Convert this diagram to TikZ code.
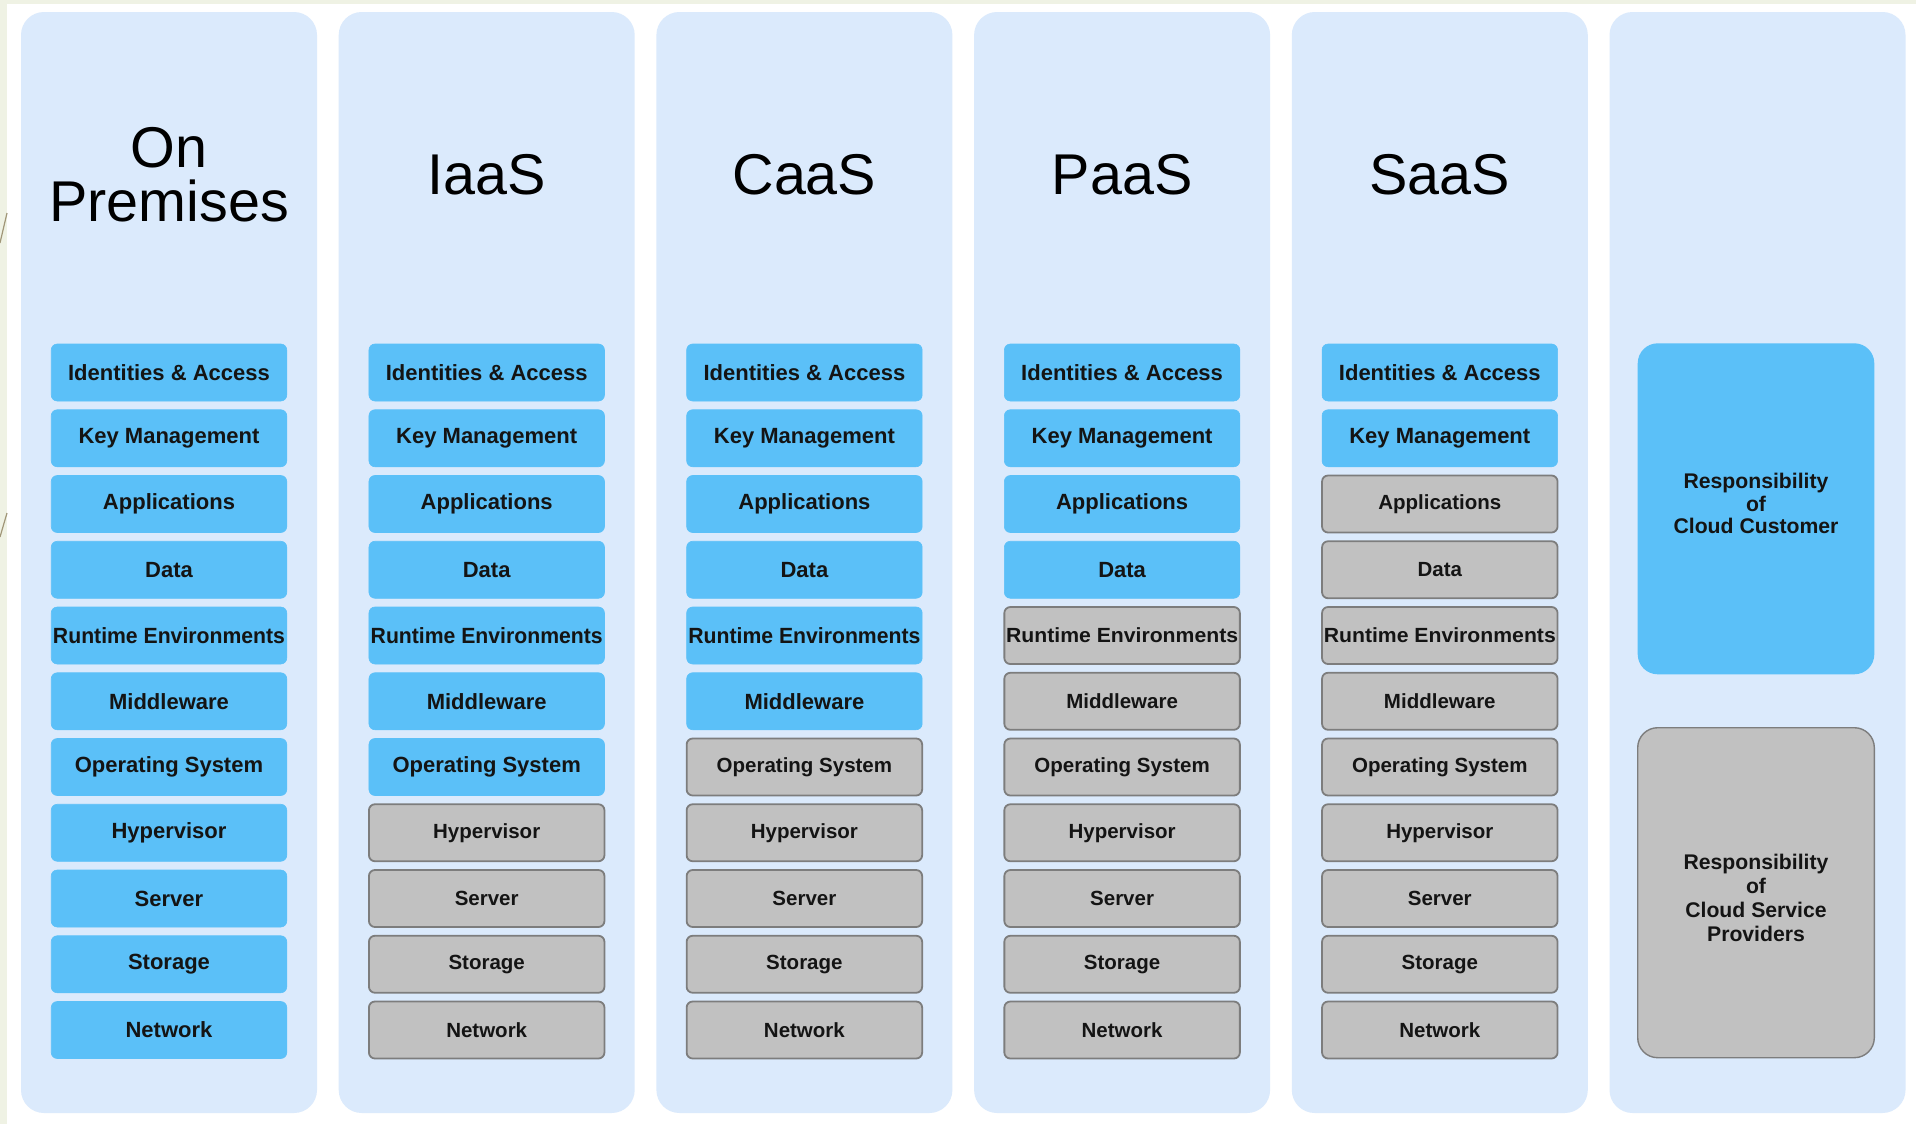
\documentclass[tikz,border=0pt]{standalone}
\usepackage{fontspec}
\setmainfont{Liberation Sans}
\usepackage{graphicx}

\definecolor{panelbg}{RGB}{219,234,252}
\definecolor{custblue}{RGB}{91,192,248}
\definecolor{provgray}{RGB}{193,193,193}
\definecolor{provedge}{RGB}{125,125,125}
\definecolor{creamstrip}{RGB}{239,242,228}
\definecolor{creamline}{RGB}{160,150,120}
\definecolor{labelink}{RGB}{20,20,20}

% squeeze a long label to the box width
\newcommand{\fitw}[1]{\resizebox{116pt}{\height}{#1}}

\begin{document}
\begin{tikzpicture}[x=0.5pt,y=-0.5pt,
  panel/.style={fill=panelbg, rounded corners=11.5pt, minimum width=148pt,
    minimum height=550.5pt, inner sep=0pt},
  coltitle/.style={font=\fontsize{28.75}{27}\selectfont, align=center,
    text=black, inner sep=0pt},
  layerbase/.style={rounded corners=3pt, minimum width=117.75pt,
    minimum height=28.5pt, inner sep=0pt, text=labelink},
  custbox/.style={layerbase, fill=custblue, draw=custblue, line width=0.3pt,
    font=\bfseries\fontsize{11}{12}\selectfont},
  provbox/.style={layerbase, fill=provgray, draw=provedge, line width=0.9pt,
    font=\bfseries\fontsize{10.25}{12}\selectfont},
  bigbase/.style={rounded corners=10pt, minimum width=118.3pt, inner sep=0pt},
  bigcust/.style={bigbase, fill=custblue, minimum height=165.5pt},
  bigprov/.style={bigbase, fill=provgray, draw=provedge, line width=0.7pt,
    minimum height=165pt},
  bigtext/.style={align=center, text=labelink, inner sep=0pt},
]
\useasboundingbox (0,0) rectangle (1916,1124);
\fill[white] (0,0) rectangle (1916,1124);

% page frame strips
\fill[creamstrip] (0,0) rectangle (1916,4);
\fill[creamstrip] (0,0) rectangle (7,1124);
\draw[creamline, line width=0.6pt] (0,243) -- (7,213);
\draw[creamline, line width=0.6pt] (0,537) -- (7,513);

% column panels
\foreach \i in {0,...,5}{
  \node[panel] (panel\i) at ({169+317.7*\i},562.5) {};
}

% column titles
\node[coltitle] (t0) at (169,174.5) {On\\Premises};
\node[coltitle] (t1) at (486.7,174.5) {IaaS};
\node[coltitle] (t2) at (804.4,174.5) {CaaS};
\node[coltitle] (t3) at (1122.1,174.5) {PaaS};
\node[coltitle] (t4) at (1439.8,174.5) {SaaS};

% layer stacks: the first \nb layers belong to the customer
\foreach \i/\nb in {0/11,1/7,2/6,3/4,4/2}{
  \foreach \lab [count=\j from 0] in {Identities \& Access, Key Management,
      Applications, Data, {\fitw{Runtime Environments}}, Middleware,
      Operating System, Hypervisor, Server, Storage, Network}{
    \ifnum\j<\nb
      \node[custbox] (c\i-r\j) at ({169+317.7*\i},{372.5+65.75*\j}) {\lab};
    \else
      \node[provbox] (c\i-r\j) at ({169+317.7*\i},{372.5+65.75*\j}) {\lab};
    \fi
  }
}

% legend
\node[bigcust] (cust) at (1756,508.8) {};
\node[bigtext, font=\bfseries\fontsize{10.6}{11.2}\selectfont]
  (custtxt) at ([yshift=2.5pt]cust.center) {Responsibility\\of\\Cloud Customer};
\node[bigprov] (prov) at (1756,892.7) {};
\node[bigtext, font=\bfseries\fontsize{10.6}{12}\selectfont]
  (provtxt) at ([yshift=-2.5pt]prov.center) {Responsibility\\of\\Cloud Service\\Providers};
\end{tikzpicture}
\end{document}
